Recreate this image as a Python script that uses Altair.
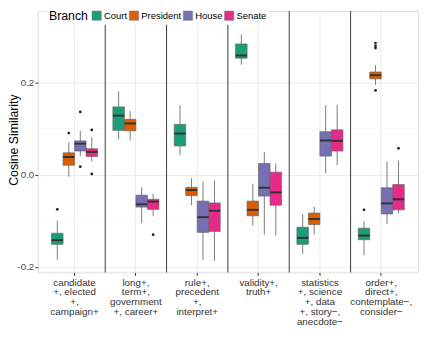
import altair as alt
import pandas as pd

categories = [
    "candidate\n+, elected\n+,\ncampaign+",
    "long+,\nterm+,\ngovernment\n+, career+",
    "rule+,\nprecedent\n+,\ninterpret+",
    "validity+,\ntruth+",
    "statistics\n+, science\n+, data\n+, story−,\nanecdote−",
    "order+,\ndirect+,\ncontemplate−,\nconsider−",
]
branches = ["Court", "President", "House", "Senate"]
colors = ["#1B9E77", "#D95F02", "#7570B3", "#E7298A"]

# values listed category by category, in branch order Court, President, House, Senate
whisker_low = [-0.185, -0.004, 0.041, 0.029,
               0.078, 0.075, -0.105, -0.090,
               0.043, -0.066, -0.185, -0.187,
               0.240, -0.110, -0.130, -0.132,
               -0.172, -0.130, 0.004, 0.021,
               -0.175, 0.196, -0.107, -0.083]
q1 = [-0.151, 0.021, 0.052, 0.040,
      0.097, 0.096, -0.070, -0.075,
      0.063, -0.045, -0.125, -0.123,
      0.254, -0.089, -0.046, -0.066,
      -0.151, -0.108, 0.041, 0.052,
      -0.141, 0.209, -0.085, -0.076]
median = [-0.142, 0.039, 0.068, 0.050,
          0.129, 0.112, -0.064, -0.058,
          0.090, -0.033, -0.092, -0.078,
          0.260, -0.076, -0.028, -0.038,
          -0.137, -0.096, 0.075, 0.074,
          -0.132, 0.217, -0.062, -0.053]
q3 = [-0.127, 0.048, 0.074, 0.057,
      0.148, 0.121, -0.044, -0.053,
      0.110, -0.027, -0.057, -0.061,
      0.285, -0.057, 0.025, 0.006,
      -0.114, -0.083, 0.094, 0.098,
      -0.116, 0.224, -0.028, -0.021]
whisker_high = [-0.100, 0.071, 0.096, 0.082,
                0.182, 0.139, -0.027, -0.041,
                0.152, -0.007, -0.014, -0.012,
                0.306, -0.019, 0.050, 0.025,
                -0.085, -0.069, 0.152, 0.153,
                -0.101, 0.239, 0.028, 0.031]

outlier_cat = [0, 0, 0, 0, 0, 0, 1, 5, 5, 5, 5, 5, 5]
outlier_branch = ["Court", "President", "House", "House", "Senate", "Senate",
                  "Senate", "Court", "President", "President", "President",
                  "President", "Senate"]
outlier_value = [-0.075, 0.091, 0.137, 0.018, 0.098, 0.002,
                 -0.130, -0.076, 0.287, 0.281, 0.276, 0.184, 0.058]

minor_grid = [-0.1, 0.1]

rows = []
k = 0
for c in categories:
    for b in branches:
        rows.append(dict(cat=c, branch=b, wlo=whisker_low[k], q1=q1[k],
                         med=median[k], q3=q3[k], whi=whisker_high[k]))
        k += 1
box_df = pd.DataFrame(rows)
out_df = pd.DataFrame(dict(cat=[categories[i] for i in outlier_cat],
                           branch=outlier_branch, value=outlier_value))
sep_df = pd.DataFrame(dict(cat=categories[:-1]))
minor_df = pd.DataFrame(dict(v=minor_grid))

FONT = "Liberation Sans"
xscale = alt.Scale(domain=categories, paddingInner=0, paddingOuter=0.1)
yscale = alt.Scale(domain=[-0.2122, 0.3568], nice=False, zero=False)
oscale = alt.Scale(domain=branches, paddingInner=0, paddingOuter=0.6667)

xaxis = alt.Axis(labelExpr="split(datum.label, '\\n')", labelAngle=0,
                 labelFontSize=10, labelColor="#333333", labelLineHeight=10,
                 labelPadding=2, labelBaseline="top", tickSize=3,
                 tickColor="#333333", domain=False, grid=True,
                 gridColor="#ebebeb", gridWidth=1, title=None, labelFont=FONT)
yaxis = alt.Axis(values=[-0.2, 0.0, 0.2],
                 labelExpr="replace(format(datum.value, '.1f'), '\u2212', '-')",
                 labelFontSize=10,
                 labelColor="#4d4d4d", labelPadding=1, tickSize=3,
                 tickColor="#333333", domain=False, gridColor="#ebebeb",
                 gridWidth=1, title="Cosine Similarity", titleFontSize=12.5,
                 titleFontWeight="normal", titleColor="#000000",
                 titleX=-20.8, titleY=131, titleBaseline="alphabetic",
                 titleFont=FONT, labelFont=FONT)

X = alt.X("cat:N", scale=xscale, axis=xaxis)
XO = alt.XOffset("branch:N", scale=oscale)

minor = alt.Chart(minor_df).mark_rule(color="#f2f2f2", strokeWidth=0.6).encode(
    y=alt.Y("v:Q", scale=yscale, axis=yaxis))

sep = alt.Chart(sep_df).mark_rule(color="#3a3a3a", strokeWidth=1).encode(
    x=alt.X("cat:N", scale=xscale, axis=xaxis, bandPosition=1))

whisk = alt.Chart(box_df).mark_rule(color="#5a5a5a", strokeWidth=0.8).encode(
    x=X, xOffset=XO,
    y=alt.Y("wlo:Q", scale=yscale, axis=yaxis), y2="whi:Q")

boxes = alt.Chart(box_df).mark_bar(stroke="#666666", strokeWidth=0.7).encode(
    x=X, xOffset=XO,
    y=alt.Y("q1:Q", scale=yscale, axis=yaxis), y2="q3:Q",
    color=alt.Color("branch:N", scale=alt.Scale(domain=branches, range=colors),
                    legend=alt.Legend(title="Branch", orient="none",
                                      direction="horizontal", legendX=9.5,
                                      legendY=-3, titleOrient="left",
                                      titleFontSize=12.5,
                                      titleFontWeight="normal",
                                      titleColor="#000000", titlePadding=3,
                                      labelFontSize=9.6, labelColor="#000000",
                                      labelOffset=2, symbolType="square",
                                      symbolSize=90, symbolStrokeColor="#888888",
                                      symbolStrokeWidth=0.6, symbolOpacity=1,
                                      columnPadding=0, fillColor="#ffffff",
                                      padding=2, titleFont=FONT,
                                      labelFont=FONT)))

meds = alt.Chart(box_df).mark_tick(orient="horizontal", size=11.7, thickness=2,
                                   color="#333333", opacity=1).encode(
    x=X, xOffset=XO, y=alt.Y("med:Q", scale=yscale, axis=yaxis))

outs = alt.Chart(out_df).mark_circle(size=8, color="#222222", opacity=1).encode(
    x=X, xOffset=XO, y=alt.Y("value:Q", scale=yscale, axis=yaxis))

chart = alt.layer(minor, sep, whisk, boxes, meds, outs).properties(
    width=387.4, height=266.3,
    autosize=alt.AutoSizeParams(type="none"),
    padding={"left": 30.3, "top": 0, "right": 3, "bottom": 60},
).configure_view(stroke="#7a7a7a", strokeWidth=1).configure(font=FONT)

chart.save("out.html", embed_options={"renderer": "svg", "actions": False})
